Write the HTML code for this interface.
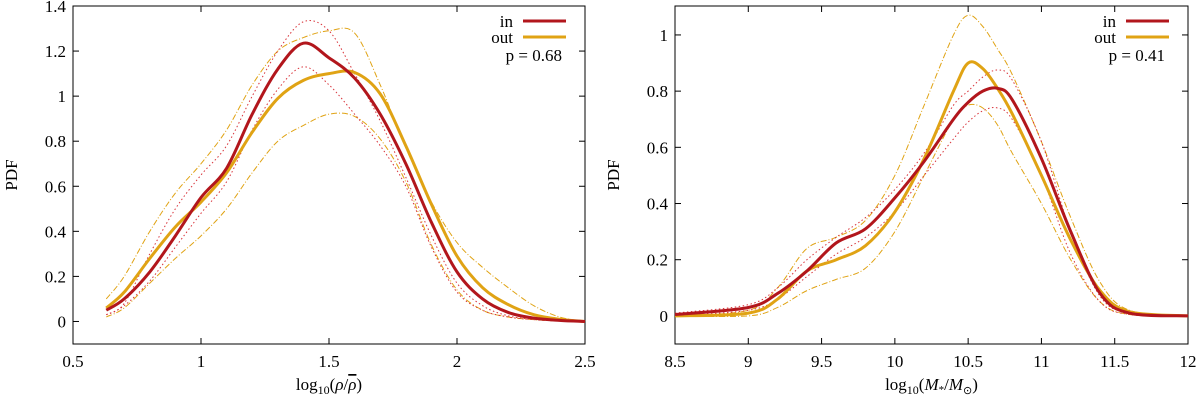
<!DOCTYPE html>
<html><head><meta charset="utf-8"><style>
html,body{margin:0;padding:0;background:#fff;width:1200px;height:400px;overflow:hidden}
svg{font-family:"Liberation Serif",serif;font-size:17px}
</style></head><body>
<svg id="svg" width="1200" height="400" viewBox="0 0 1200 400"></svg>
<script>
// ---- Left panel data (log10 rho/rhobar) ----
const leftX=[0.63,0.7,0.8,0.9,1.0,1.1,1.2,1.3,1.4,1.5,1.6,1.7,1.8,1.9,2.0,2.1,2.2,2.3,2.4,2.5];
const leftInY=[0.05,0.1,0.22,0.38,0.55,0.68,0.92,1.12,1.235,1.17,1.08,0.92,0.70,0.44,0.22,0.10,0.04,0.015,0.005,0];
const leftInHiY=[0.03,0.08,0.3,0.5,0.65,0.78,1.0,1.2,1.33,1.29,1.1,0.89,0.64,0.38,0.17,0.07,0.025,0.01,0.003,0];
const leftInLoY=[0.03,0.07,0.18,0.33,0.48,0.62,0.85,1.03,1.13,1.05,0.92,0.78,0.6,0.33,0.13,0.05,0.02,0.008,0.002,0];
const leftOutY=[0.06,0.13,0.28,0.42,0.53,0.66,0.84,0.99,1.07,1.1,1.105,1.01,0.78,0.52,0.29,0.15,0.075,0.03,0.01,0];
const leftOutHiY=[0.1,0.2,0.4,0.57,0.7,0.85,1.05,1.2,1.26,1.29,1.28,1.05,0.77,0.53,0.35,0.24,0.15,0.07,0.02,0];
const leftOutLoY=[0.02,0.06,0.17,0.28,0.38,0.5,0.66,0.8,0.87,0.92,0.91,0.81,0.62,0.34,0.14,0.05,0.02,0.008,0.002,0];
const leftXTicks=[0.5,1,1.5,2,2.5];
const leftXTickLabels=["0.5","1","1.5","2","2.5"];
const leftYTicks=[0,0.2,0.4,0.6,0.8,1,1.2,1.4];
const leftYTickLabels=["0","0.2","0.4","0.6","0.8","1","1.2","1.4"];
// ---- Right panel data (log10 M*/Msun) ----
const rightX=[8.5,9.0,9.2,9.4,9.6,9.8,10.0,10.2,10.4,10.5,10.6,10.7,10.8,11.0,11.2,11.4,11.6,12];
const rightInY=[0.005,0.03,0.08,0.16,0.26,0.31,0.42,0.55,0.7,0.76,0.8,0.81,0.77,0.56,0.3,0.08,0.01,0];
const rightInHiY=[0.01,0.04,0.1,0.2,0.28,0.35,0.45,0.58,0.75,0.8,0.85,0.875,0.84,0.62,0.3,0.07,0.01,0];
const rightInLoY=[0,0.02,0.06,0.14,0.22,0.28,0.37,0.5,0.63,0.69,0.73,0.74,0.7,0.5,0.22,0.05,0.005,0];
const rightOutY=[0,0.01,0.06,0.16,0.2,0.25,0.37,0.56,0.8,0.9,0.88,0.81,0.72,0.5,0.27,0.09,0.015,0];
const rightOutHiY=[0,0.02,0.1,0.24,0.28,0.34,0.5,0.75,1.0,1.07,1.03,0.95,0.86,0.62,0.35,0.12,0.02,0];
const rightOutLoY=[0,0,0.03,0.09,0.13,0.17,0.3,0.5,0.7,0.75,0.74,0.68,0.58,0.4,0.2,0.05,0.005,0];
const rightXTicks=[8.5,9,9.5,10,10.5,11,11.5,12];
const rightXTickLabels=["8.5","9","9.5","10","10.5","11","11.5","12"];
const rightYTicks=[0,0.2,0.4,0.6,0.8,1];
const rightYTickLabels=["0","0.2","0.4","0.6","0.8","1"];

const RED="#b2161c", GOLD="#e0a314";
const NS="http://www.w3.org/2000/svg";
const svg=document.getElementById('svg');
function mk(tag,attrs,parent){const e=document.createElementNS(NS,tag);for(const k in attrs)e.setAttribute(k,attrs[k]);(parent||svg).appendChild(e);return e;}
function smooth(pts){let d="M"+pts[0][0]+","+pts[0][1];for(let i=0;i<pts.length-1;i++){const p0=pts[Math.max(0,i-1)],p1=pts[i],p2=pts[i+1],p3=pts[Math.min(pts.length-1,i+2)];const c1x=p1[0]+(p2[0]-p0[0])/6,c1y=p1[1]+(p2[1]-p0[1])/6,c2x=p2[0]-(p3[0]-p1[0])/6,c2y=p2[1]-(p3[1]-p1[1])/6;d+=" C"+c1x.toFixed(2)+","+c1y.toFixed(2)+" "+c2x.toFixed(2)+","+c2y.toFixed(2)+" "+p2[0].toFixed(2)+","+p2[1].toFixed(2);}return d;}

function panel(cfg){
  const g=mk('g',{});
  
  
  const sx=v=>cfg.x0+(v-cfg.xmin)/(cfg.xmax-cfg.xmin)*(cfg.x1-cfg.x0);
  const sy=v=>cfg.y1-(v-cfg.ymin)/(cfg.ymax-cfg.ymin)*(cfg.y1-cfg.y0);
  const fr=mk('rect',{x:cfg.x0,y:cfg.y0,width:cfg.x1-cfg.x0,height:cfg.y1-cfg.y0,fill:'none',stroke:'#000','stroke-width':1},g);
  
  
  cfg.xt.forEach((v,i)=>{const x=sx(v);
    mk('line',{x1:x,x2:x,y1:cfg.y1,y2:cfg.y1-6,stroke:'#000'},g);
    mk('line',{x1:x,x2:x,y1:cfg.y0,y2:cfg.y0+6,stroke:'#000'},g);
    const t=mk('text',{x:x,y:cfg.y1+23,'text-anchor':'middle'},g);t.textContent=cfg.xl[i];
    
    });
  cfg.yt.forEach((v,i)=>{const y=sy(v);
    mk('line',{x1:cfg.x0,x2:cfg.x0+6,y1:y,y2:y,stroke:'#000'},g);
    mk('line',{x1:cfg.x1,x2:cfg.x1-6,y1:y,y2:y,stroke:'#000'},g);
    const t=mk('text',{x:cfg.x0-7,y:y+6,'text-anchor':'end'},g);t.textContent=cfg.yl[i];
    
    });
  cfg.series.forEach(s=>{
    const pts=s.x.map((v,i)=>[sx(v),sy(s.y[i])]);
    const p=mk('path',{d:smooth(pts),fill:'none',stroke:s.c,'stroke-width':s.w,'stroke-dasharray':s.dash||'none'},g);
    
    
  });
  const yl=mk('text',{x:0,y:0,transform:`translate(${cfg.x0-56},${(cfg.y0+cfg.y1)/2}) rotate(-90)`,'text-anchor':'middle'},g);
  yl.textContent='PDF';
  
  
  const xl=mk('text',{x:(cfg.x0+cfg.x1)/2,y:cfg.y1+46,'text-anchor':'middle'},g);
  xl.innerHTML=cfg.xtitle;
  
  
  [['in',RED,21],['out',GOLD,37]].forEach(([lab,c,y])=>{
    const t=mk('text',{x:cfg.x1-72,y:y+6,'text-anchor':'end'},g);t.textContent=lab;
    
    
    const l=mk('line',{x1:cfg.x1-62,x2:cfg.x1-19,y1:y,y2:y,stroke:c,'stroke-width':3},g);
    
    });
  const pt=mk('text',{x:cfg.x1-23,y:61,'text-anchor':'end'},g);pt.textContent=cfg.p;
  
  
}
panel({name:'left-panel-density',x0:73,x1:585,y0:6,y1:344,xmin:0.5,xmax:2.5,ymin:-0.1,ymax:1.4,
  xt:leftXTicks,xl:leftXTickLabels,yt:leftYTicks,yl:leftYTickLabels,p:'p = 0.68',
  xtitle:'log<tspan font-size="12" dy="4">10</tspan><tspan dy="-4">(</tspan><tspan font-style="italic">ρ</tspan>/<tspan font-style="italic" text-decoration="overline">ρ</tspan>)',
  series:[
   {n:'out-upper-bound',x:leftX,y:leftOutHiY,c:GOLD,w:1,dash:'6,2,1,2'},
   {n:'out-lower-bound',x:leftX,y:leftOutLoY,c:GOLD,w:1,dash:'6,2,1,2'},
   {n:'in-upper-bound',x:leftX,y:leftInHiY,c:'#d8333a',w:1,dash:'1.5,2.5'},
   {n:'in-lower-bound',x:leftX,y:leftInLoY,c:'#d8333a',w:1,dash:'1.5,2.5'},
   {n:'out-line',x:leftX,y:leftOutY,c:GOLD,w:3},
   {n:'in-line',x:leftX,y:leftInY,c:RED,w:3}]});
panel({name:'right-panel-stellar-mass',x0:675,x1:1188,y0:6,y1:344,xmin:8.5,xmax:12,ymin:-0.1,ymax:1.103,
  xt:rightXTicks,xl:rightXTickLabels,yt:rightYTicks,yl:rightYTickLabels,p:'p = 0.41',
  xtitle:'log<tspan font-size="12" dy="4">10</tspan><tspan dy="-4">(</tspan><tspan font-style="italic">M</tspan><tspan font-size="11" dy="3">*</tspan><tspan dy="-3">/</tspan><tspan font-style="italic">M</tspan><tspan font-size="11" dy="4">⊙</tspan><tspan dy="-4">)</tspan>',
  series:[
   {n:'out-upper-bound',x:rightX,y:rightOutHiY,c:GOLD,w:1,dash:'6,2,1,2'},
   {n:'out-lower-bound',x:rightX,y:rightOutLoY,c:GOLD,w:1,dash:'6,2,1,2'},
   {n:'in-upper-bound',x:rightX,y:rightInHiY,c:'#d8333a',w:1,dash:'1.5,2.5'},
   {n:'in-lower-bound',x:rightX,y:rightInLoY,c:'#d8333a',w:1,dash:'1.5,2.5'},
   {n:'out-line',x:rightX,y:rightOutY,c:GOLD,w:3},
   {n:'in-line',x:rightX,y:rightInY,c:RED,w:3}]});
</script>
</body></html>
